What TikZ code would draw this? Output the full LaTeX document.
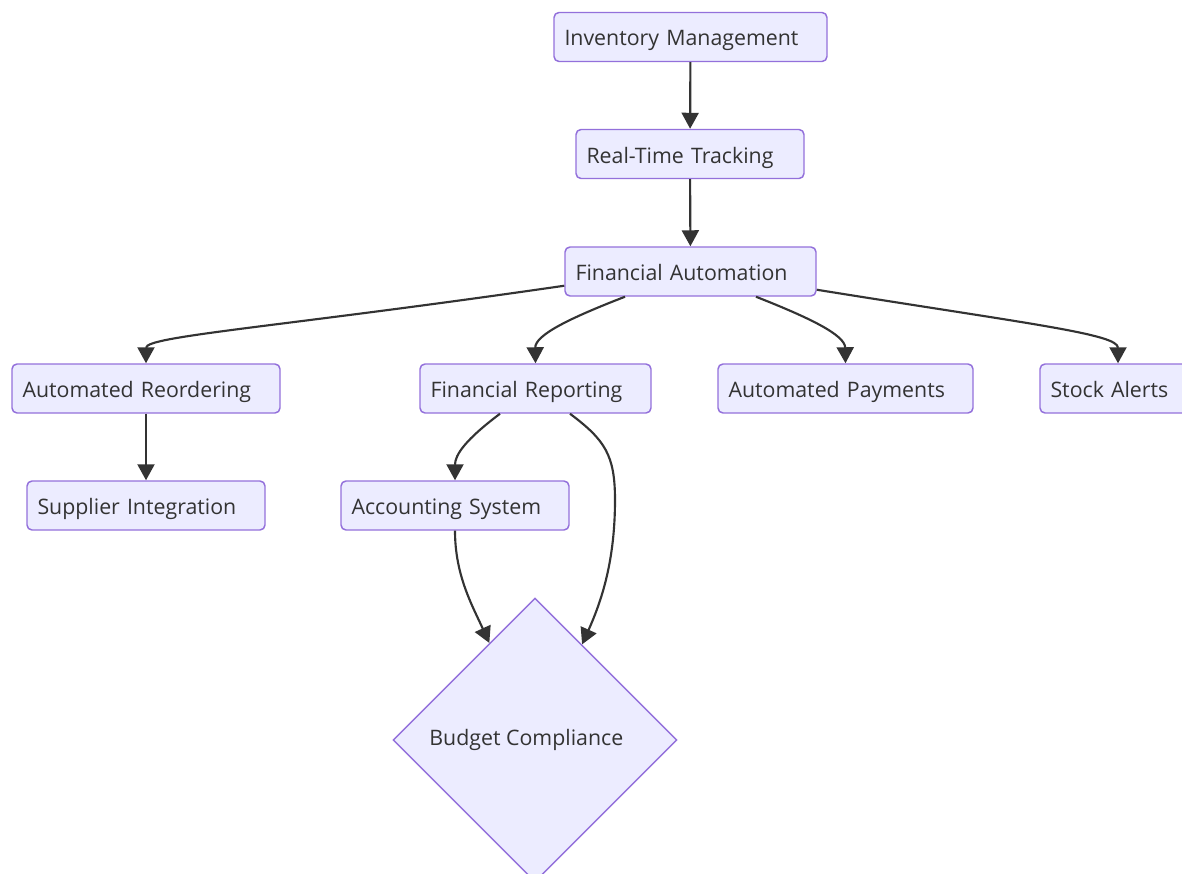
\documentclass[tikz,border=0pt]{standalone}
\usepackage{fontspec}
\setmainfont{Open Sans}
\usetikzlibrary{arrows.meta,shapes.geometric,calc}
\definecolor{nodefill}{HTML}{ECECFF}
\definecolor{nodeborder}{HTML}{9370DB}
\definecolor{edgecol}{HTML}{333333}
\begin{document}
\begin{tikzpicture}[x=0.75pt,y=-0.75pt,
  box/.style={draw=nodeborder,fill=nodefill,line width=1.1pt,rounded corners=3.75pt,
    minimum height=36.75pt,inner xsep=7.875pt,inner ysep=0pt,align=left,
    text height=13.5pt,text depth=0pt,
    text=edgecol,font=\fontsize{16}{19}\selectfont},
  decision/.style={diamond,aspect=1,draw=nodeborder,fill=nodefill,line width=1.1pt,
    minimum size=213pt,inner sep=0pt,text=edgecol,font=\fontsize{16}{19}\selectfont},
  edge/.style={draw=edgecol,line width=1.6pt,-{Triangle[length=12pt,width=12.75pt]}}]
\clip (0,0) rectangle (1182,874);
\useasboundingbox (0,0) rectangle (1182,874);

\node[box,text width=189pt] (IM) at (690.5,37) {Inventory Management};
\node[box,text width=155.25pt] (RT) at (690,154) {Real-Time Tracking};
\node[box,text width=172.5pt] (FA) at (690.5,271.5) {Financial Automation};
\node[box,text width=185.25pt] (AR) at (146,388.5) {Automated Reordering};
\node[box,text width=157.5pt] (FR) at (535.5,388.5) {Financial Reporting};
\node[box,text width=175.5pt] (AP) at (845.5,388.5) {Automated Payments};
\node[box,text width=101.25pt] (SA) at (1118,388.5) {Stock Alerts};
\node[box,text width=162.75pt] (SI) at (146,505.5) {Supplier Integration};
\node[box,text width=155.25pt] (AS) at (455,505.5) {Accounting System};
\node[decision] (BC) at (535,740) {\hspace*{-13pt}Budget Compliance};

\draw[edge] (IM) -- (RT);
\draw[edge] (RT) -- (FA);
\draw[edge] ($(FA.south west)+(0,-11)$) .. controls (280,327) and (146,336) .. (AR.north);
\draw[edge] ($(FA.south)+(-65.5,0)$) .. controls (570,318) and (535,335) .. (FR.north);
\draw[edge] ($(FA.south)+(65.5,0)$) .. controls (810,318) and (845,335) .. (AP.north);
\draw[edge] ($(FA.south east)+(0,-7)$) .. controls (1030,324) and (1118,334) .. (SA.north);
\draw[edge] (AR) -- (SI);
\draw[edge] ($(FR.south)+(-35.5,0)$) .. controls (465,440) and (455,455) .. (AS.north);
\draw[edge] ($(FR.south)+(34.5,0)$) .. controls (605,440) and (615,455) .. (615,500)
  .. controls (615,560) and (602,600) .. ($(BC.north)!0.33!(BC.east)$);
\draw[edge] (AS.south) .. controls (455,575) and (472,605) .. ($(BC.north)!0.32!(BC.west)$);
\end{tikzpicture}
\end{document}
